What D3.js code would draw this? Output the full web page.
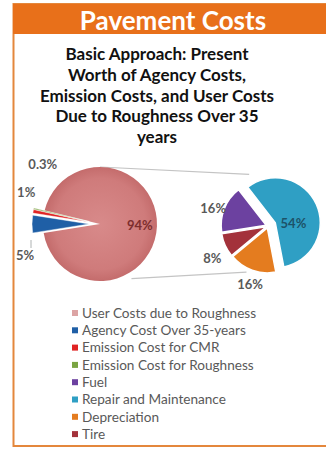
<!DOCTYPE html>
<html>
<head>
<meta charset="utf-8">
<script src="https://cdn.jsdelivr.net/npm/d3@7"></script>
<style>
  body { margin: 0; background: #fff; }
  text { font-family: Lato, "Open Sans", sans-serif; }
</style>
</head>
<body>
<div id="chart"></div>
<script>
// main pie (all cost groups)
const mainNames = ["User Costs due to Roughness", "Agency Cost Over 35-years", "Emission Cost for CMR", "Emission Cost for Roughness"];
const mainValues = [94, 5, 1, 0.3];
const mainText = ["94%", "5%", "1%", "0.3%"];
const mainColors = ["#d48282", "#1f5fa6", "#e02424", "#7aa442"];

// secondary pie (user cost breakdown)
const subNames = ["Fuel", "Repair and Maintenance", "Depreciation", "Tire"];
const subValues = [16, 54, 16, 8];
const subText = ["16%", "54%", "16%", "8%"];
const subColors = ["#6c41a0", "#2f9fc4", "#e47c1f", "#a3323b"];

const legendNames = mainNames.concat(subNames);
const legendColors = ["#dca4a4", "#1f5fa6", "#e02424", "#7aa442", "#6c41a0", "#2f9fc4", "#e47c1f", "#a3323b"];

const titleLines = ["Basic Approach: Present", "Worth of Agency Costs,", "Emission Costs, and User Costs", "Due to Roughness Over 35", "years"];

const width = 326, height = 449;
const deg = Math.PI / 180;

const svg = d3.select("#chart").append("svg")
    .attr("width", width)
    .attr("height", height);

// frame + header band
svg.append("rect")
    .attr("x", 13.5).attr("y", 4)
    .attr("width", width).attr("height", 442)
    .attr("fill", "#fff")
    .attr("stroke", "#e4873c")
    .attr("stroke-width", 2);
svg.append("rect")
    .attr("x", 13).attr("y", 4)
    .attr("width", width - 13).attr("height", 30)
    .attr("fill", "#e8701a");
svg.append("text")
    .attr("x", 173).attr("y", 30)
    .attr("text-anchor", "middle")
    .attr("fill", "#fff")
    .style("font-size", "26px")
    .style("font-weight", "bold")
    .text("Pavement Costs");

svg.selectAll(".title")
    .data(titleLines)
    .join("text")
    .attr("class", "title")
    .attr("x", 157)
    .attr("y", (d, i) => 60 + i * 20.8)
    .attr("text-anchor", "middle")
    .attr("fill", "#111")
    .style("font-size", "17px")
    .style("font-weight", "bold")
    .text(d => d);

const main = { cx: 100, cy: 224, r: 57 };
const sub = { cx: 268, cy: 226, r: 45 };

const pt = (c, a, r) => [c.cx + Math.sin(a) * r, c.cy - Math.cos(a) * r];

// connector lines between the two pies
const connectors = [
    [pt(main, 0, main.r), pt(sub, -20 * deg, sub.r + 10)],
    [pt(main, 150 * deg, main.r + 6), pt(sub, 205 * deg, sub.r + 6)]
];
svg.selectAll(".conn")
    .data(connectors)
    .join("path")
    .attr("class", "conn")
    .attr("d", d => d3.line()(d))
    .attr("stroke", "#c4c4c4")
    .attr("stroke-width", 1.2)
    .attr("fill", "none");

// main pie
const mainPie = d3.pie().sort(null)
    .startAngle(-76.4 * deg).endAngle(-76.4 * deg + 2 * Math.PI);
const mainArcs = mainPie(mainValues);
const mainArc = d3.arc().innerRadius(0).outerRadius(main.r);
const mainExplode = [0, 11, 11, 11];

const defs = svg.append("defs");
const grad = defs.append("radialGradient").attr("id", "pinkGrad");
grad.append("stop").attr("offset", "0%").attr("stop-color", "#d88a8a");
grad.append("stop").attr("offset", "80%").attr("stop-color", "#cf7b7b");
grad.append("stop").attr("offset", "100%").attr("stop-color", "#c46c6c");

const gMain = svg.append("g")
    .attr("transform", `translate(${main.cx},${main.cy})`);
gMain.selectAll("path")
    .data(mainArcs)
    .join("path")
    .attr("d", mainArc)
    .attr("transform", (d, i) => {
        const a = (d.startAngle + d.endAngle) / 2;
        return `translate(${Math.sin(a) * mainExplode[i]},${-Math.cos(a) * mainExplode[i]})`;
    })
    .attr("fill", (d, i) => i === 0 ? "url(#pinkGrad)" : mainColors[i])
    .attr("stroke", (d, i) => i === 0 ? "none" : "#fff")
    .attr("stroke-width", 0.4);

// main labels: big slice inside, small ones stacked on the left
const smallOffsets = [null, [-7, 31], [-7, -19], [9, -44]];
mainArcs.forEach((d, i) => {
    const a = (d.startAngle + d.endAngle) / 2;
    let x, y, fill = "#595959";
    if (i === 0) {
        x = Math.sin(a) * main.r * 0.7;
        y = -Math.cos(a) * main.r * 0.7;
        fill = "#7e2e2e";
    } else {
        const rr = main.r + mainExplode[i];
        x = Math.sin(a) * rr + smallOffsets[i][0];
        y = -Math.cos(a) * rr + smallOffsets[i][1];
    }
    gMain.append("text")
        .attr("x", x).attr("y", y)
        .attr("dy", "0.35em")
        .attr("text-anchor", "middle")
        .attr("fill", fill)
        .style("font-size", "13px")
        .style("font-weight", "bold")
        .text(mainText[i]);
});

// small leader ticks for 0.3% and 5%
const tickX = -main.r - 12;
gMain.selectAll(".lead")
    .data([[-37, -27], [16, 24]])
    .join("line")
    .attr("class", "lead")
    .attr("x1", tickX).attr("x2", tickX)
    .attr("y1", d => d[0]).attr("y2", d => d[1])
    .attr("stroke", "#9aa0a0")
    .attr("stroke-width", 0.8);

// secondary pie
const subPie = d3.pie().sort(null)
    .startAngle(-99 * deg).endAngle(-99 * deg + 2 * Math.PI);
const subArcs = subPie(subValues);
const subArc = d3.arc().innerRadius(0).outerRadius(sub.r);
const subExplode = [2, 8, 2, 2];

const gSub = svg.append("g")
    .attr("transform", `translate(${sub.cx},${sub.cy})`);
gSub.selectAll("path")
    .data(subArcs)
    .join("path")
    .attr("d", subArc)
    .attr("transform", (d, i) => {
        const a = (d.startAngle + d.endAngle) / 2;
        return `translate(${Math.sin(a) * subExplode[i]},${-Math.cos(a) * subExplode[i]})`;
    })
    .attr("fill", (d, i) => subColors[i])
    .attr("stroke", "#fff")
    .attr("stroke-width", 1.5);

// label distance from centre and small nudges per slice
const subLabelR = [sub.r + 14, sub.r * 0.62, sub.r + 14, sub.r + 14];
const subNudge = [[0, 4], [0, 9], [2, 3], [-2, 8]];
subArcs.forEach((d, i) => {
    const a = (d.startAngle + d.endAngle) / 2;
    const rr = subLabelR[i];
    gSub.append("text")
        .attr("x", Math.sin(a) * rr + subNudge[i][0])
        .attr("y", -Math.cos(a) * rr + subNudge[i][1])
        .attr("dy", "0.35em")
        .attr("text-anchor", "middle")
        .attr("fill", i === 1 ? "#1d5268" : "#595959")
        .style("font-size", "13px")
        .style("font-weight", "bold")
        .text(subText[i]);
});

// legend
const legend = svg.append("g").attr("transform", "translate(72,313)");
const item = legend.selectAll("g")
    .data(legendNames)
    .join("g")
    .attr("transform", (d, i) => `translate(0,${i * 17.3})`);
item.append("rect")
    .attr("x", 0).attr("y", -3)
    .attr("width", 6).attr("height", 6)
    .attr("fill", (d, i) => legendColors[i]);
item.append("text")
    .attr("x", 10)
    .attr("dy", "0.35em")
    .attr("fill", "#595959")
    .style("font-size", "13.6px")
    .text(d => d);
</script>
</body>
</html>
